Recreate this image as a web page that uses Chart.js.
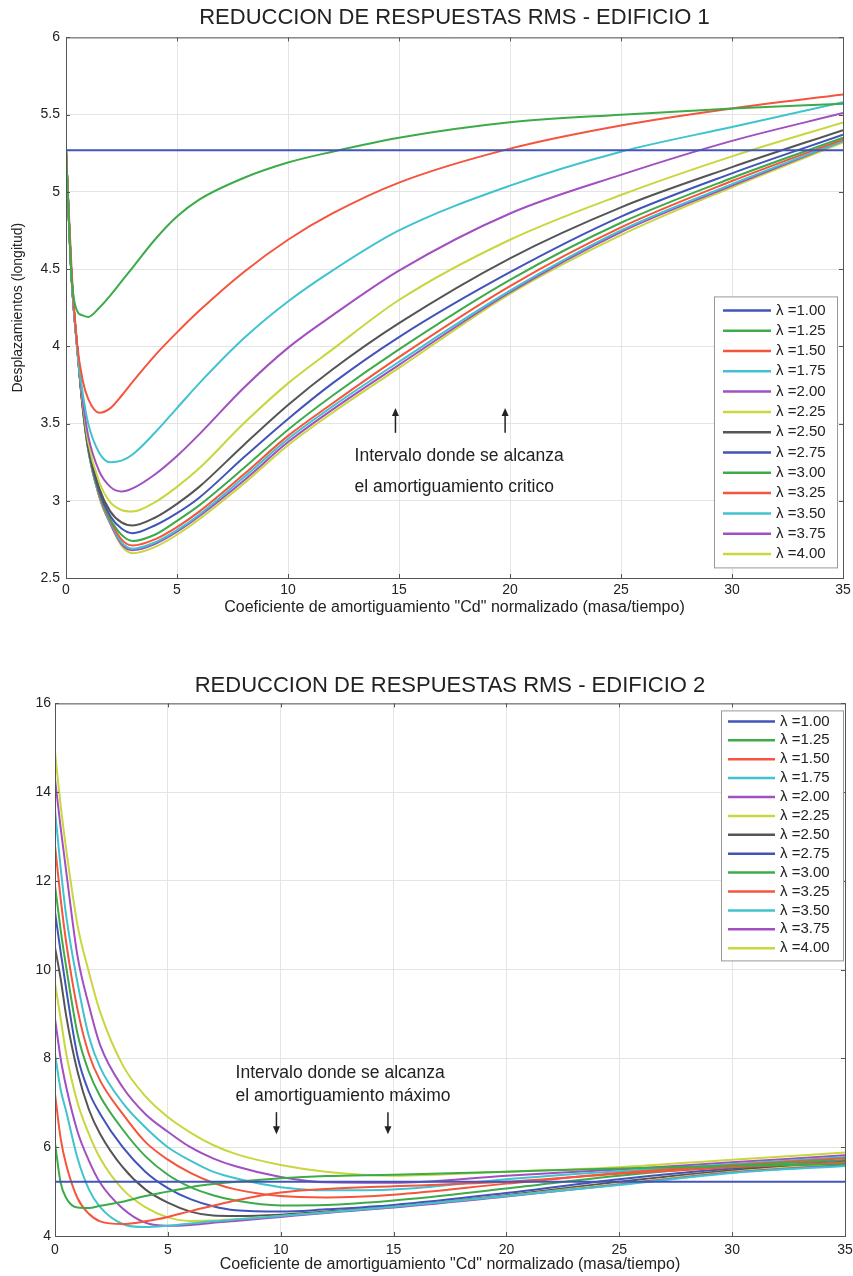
<!DOCTYPE html>
<html><head><meta charset="utf-8">
<script src="https://cdn.jsdelivr.net/npm/chart.js@4.4.0/dist/chart.umd.min.js"></script>
<style>
html,body{margin:0;padding:0;background:#fff;}
canvas{position:absolute;left:0;}
#c1{top:0;}
#c2{top:640px;}
</style></head><body>
<canvas id="c1" width="853" height="625"></canvas>
<canvas id="c2" width="853" height="636"></canvas>
<script>
// ---------- DATA ----------
const lambdas = ['1.00','1.25','1.50','1.75','2.00','2.25','2.50','2.75','3.00','3.25','3.50','3.75','4.00'];

const title1 = 'REDUCCION DE RESPUESTAS RMS - EDIFICIO 1';
const title2 = 'REDUCCION DE RESPUESTAS RMS - EDIFICIO 2';
const xTitle = 'Coeficiente de amortiguamiento "Cd" normalizado (masa/tiempo)';
const yTitle1 = 'Desplazamientos (longitud)';

// Edificio 1
const cd1 = [0,0.25,0.5,0.75,1,1.5,2,2.5,3,4,5,6,8,10,12,15,20,25,30,35];
const e1_100 = [5.27,5.27,5.27,5.27,5.27,5.27,5.27,5.27,5.27,5.27,5.27,5.27,5.27,5.27,5.27,5.27,5.27,5.27,5.27,5.27];
const e1_125 = [5.27,4.45,4.23,4.20,4.19,4.25,4.33,4.42,4.51,4.69,4.84,4.95,5.09,5.19,5.26,5.35,5.45,5.50,5.54,5.57];
const e1_150 = [5.27,4.50,4.02,3.78,3.66,3.57,3.60,3.68,3.77,3.94,4.09,4.23,4.48,4.69,4.86,5.06,5.28,5.43,5.54,5.63];
const e1_175 = [5.27,4.45,3.98,3.70,3.50,3.31,3.25,3.26,3.30,3.44,3.60,3.76,4.05,4.29,4.49,4.75,5.04,5.26,5.42,5.58];
const e1_200 = [5.27,4.45,4.00,3.66,3.42,3.19,3.09,3.06,3.08,3.17,3.29,3.43,3.73,3.99,4.20,4.49,4.86,5.11,5.33,5.51];
const e1_225 = [5.27,4.45,4.00,3.64,3.38,3.12,2.99,2.94,2.93,2.99,3.09,3.21,3.50,3.76,3.98,4.30,4.69,4.98,5.23,5.45];
const e1_250 = [5.27,4.45,4.00,3.62,3.36,3.08,2.93,2.86,2.84,2.89,2.98,3.09,3.36,3.62,3.85,4.15,4.57,4.90,5.16,5.40];
const e1_275 = [5.27,4.45,4.00,3.62,3.35,3.06,2.90,2.82,2.79,2.84,2.92,3.02,3.28,3.53,3.76,4.06,4.48,4.84,5.12,5.37];
const e1_300 = [5.27,4.45,4.00,3.61,3.34,3.05,2.88,2.78,2.74,2.78,2.87,2.97,3.21,3.46,3.68,3.98,4.43,4.80,5.09,5.35];
const e1_325 = [5.27,4.45,4.00,3.61,3.34,3.04,2.87,2.75,2.71,2.75,2.83,2.93,3.17,3.42,3.63,3.93,4.39,4.77,5.07,5.34];
const e1_350 = [5.27,4.45,4.00,3.61,3.33,3.03,2.86,2.73,2.69,2.73,2.81,2.91,3.15,3.40,3.61,3.90,4.36,4.75,5.05,5.33];
const e1_375 = [5.27,4.45,4.00,3.61,3.33,3.03,2.85,2.72,2.68,2.72,2.80,2.90,3.13,3.38,3.59,3.88,4.35,4.74,5.04,5.33];
const e1_400 = [5.27,4.45,4.00,3.60,3.33,3.02,2.85,2.71,2.66,2.70,2.78,2.88,3.11,3.36,3.57,3.86,4.34,4.72,5.03,5.32];

// Edificio 2
const cd2 = [0,0.25,0.5,1,1.5,2,3,4,5,6,7,8,10,12,15,20,25,30,35];
const e2_100 = [5.22,5.22,5.22,5.22,5.22,5.22,5.22,5.22,5.22,5.22,5.22,5.22,5.22,5.22,5.22,5.22,5.22,5.22,5.22];
const e2_125 = [6.10,5.20,4.85,4.64,4.63,4.68,4.77,4.90,5.00,5.10,5.17,5.22,5.30,5.35,5.38,5.45,5.52,5.58,5.62];
const e2_150 = [7.20,6.20,5.60,4.85,4.50,4.33,4.27,4.33,4.43,4.56,4.68,4.80,4.98,5.06,5.12,5.22,5.40,5.55,5.66];
const e2_175 = [8.10,7.30,6.80,5.75,5.05,4.65,4.27,4.20,4.23,4.28,4.33,4.37,4.45,4.53,4.66,4.90,5.15,5.42,5.58];
const e2_200 = [8.90,8.00,7.35,6.35,5.70,5.20,4.62,4.30,4.23,4.25,4.30,4.34,4.43,4.52,4.64,4.89,5.16,5.43,5.60];
const e2_225 = [9.70,8.90,8.10,7.00,6.30,5.75,5.05,4.65,4.42,4.34,4.35,4.38,4.45,4.53,4.65,4.90,5.18,5.45,5.63];
const e2_250 = [10.50,9.80,8.95,7.70,6.85,6.30,5.55,5.05,4.75,4.55,4.46,4.45,4.48,4.55,4.66,4.92,5.22,5.48,5.66];
const e2_275 = [11.30,10.40,9.55,8.05,7.25,6.75,6.00,5.45,5.08,4.83,4.67,4.58,4.55,4.60,4.70,4.97,5.28,5.52,5.68];
const e2_300 = [11.90,10.90,10.05,8.55,7.70,7.15,6.40,5.80,5.38,5.10,4.92,4.80,4.69,4.70,4.80,5.07,5.36,5.57,5.71];
const e2_325 = [12.80,11.60,10.60,9.10,8.10,7.50,6.75,6.12,5.72,5.42,5.20,5.05,4.90,4.87,4.93,5.18,5.42,5.60,5.75];
const e2_350 = [13.60,12.30,11.20,9.70,8.50,7.80,7.00,6.45,6.00,5.70,5.45,5.30,5.10,5.03,5.05,5.28,5.46,5.62,5.78];
const e2_375 = [14.30,13.20,12.20,10.30,9.20,8.30,7.35,6.75,6.35,6.00,5.75,5.57,5.33,5.21,5.20,5.36,5.50,5.66,5.82];
const e2_400 = [14.90,13.70,12.70,11.00,9.95,9.05,7.85,7.15,6.68,6.33,6.05,5.85,5.60,5.45,5.36,5.45,5.55,5.72,5.88];

// annotation texts / anchor values (data units)
const note1Lines = ['Intervalo donde se alcanza','el amortiguamiento critico'];
const note1X = 13.0, note1Y = [3.29, 3.09];
const arrows1X = [14.84, 19.78], arrows1From = 3.44, arrows1To = 3.60;
const note2Lines = ['Intervalo donde se alcanza','el amortiguamiento máximo'];
const note2X = 8.0, note2Y = [7.67, 7.16];
const arrows2X = [9.81, 14.75], arrows2From = 6.79, arrows2To = 6.29;

// ---------- STYLE ----------
const colors = ['#4254b8','#3dab4a','#f4553c','#40c3cf','#a24fc1','#c9d63d','#555555','#4254b8','#3dab4a','#f4553c','#40c3cf','#a24fc1','#c9d63d'];
const FONT = "'Liberation Sans', Arial, sans-serif";

function buildSets(xs, ys){
  return ys.map((arr,i)=>({
    label: 'λ =' + lambdas[i],
    data: arr.map((v,j)=>({x:xs[j], y:v})),
    borderColor: colors[i],
    backgroundColor: colors[i],
    borderWidth: 2,
    pointRadius: 0,
    fill: false,
    cubicInterpolationMode: 'monotone'
  }));
}

const framePlugin = {
  id:'frame',
  afterDatasetsDraw(chart){
    const {ctx, chartArea:a, scales} = chart;
    ctx.save();
    ctx.strokeStyle = '#555';
    ctx.lineWidth = 1;
    ctx.strokeRect(a.left+0.5, a.top+0.5, a.right-a.left, a.bottom-a.top);
    ctx.beginPath();
    scales.x.ticks.forEach(t=>{
      const px = Math.round(scales.x.getPixelForValue(t.value))+0.5;
      ctx.moveTo(px,a.bottom); ctx.lineTo(px,a.bottom-4);
      ctx.moveTo(px,a.top); ctx.lineTo(px,a.top+4);
    });
    scales.y.ticks.forEach(t=>{
      const py = Math.round(scales.y.getPixelForValue(t.value))+0.5;
      ctx.moveTo(a.left,py); ctx.lineTo(a.left+4,py);
      ctx.moveTo(a.right,py); ctx.lineTo(a.right-4,py);
    });
    ctx.stroke();
    ctx.restore();
  }
};

function legendPlugin(opt){
  return {
    id:'customLegend',
    afterDraw(chart){
      const {ctx, chartArea:a} = chart;
      const L = a.right + opt.left, R = a.right + opt.right;
      const T = a.top + opt.top, B = a.top + opt.bottom;
      ctx.save();
      ctx.fillStyle = '#fff';
      ctx.fillRect(L,T,R-L,B-T);
      ctx.strokeStyle = '#999';
      ctx.lineWidth = 1;
      ctx.strokeRect(L+0.5,T+0.5,R-L,B-T);
      ctx.font = '15px ' + FONT;
      ctx.textBaseline = 'middle';
      ctx.textAlign = 'left';
      chart.data.datasets.forEach((ds,i)=>{
        const y = T + opt.first + i*opt.step;
        ctx.strokeStyle = ds.borderColor;
        ctx.lineWidth = 2.5;
        ctx.beginPath();
        ctx.moveTo(L+opt.lineFrom, y); ctx.lineTo(L+opt.lineTo, y);
        ctx.stroke();
        ctx.fillStyle = '#222';
        ctx.fillText(ds.label, L+opt.textX, y);
      });
      ctx.restore();
    }
  };
}

function notesPlugin(lines, nx, nys, ax, from, to){
  return {
    id:'notes',
    afterDraw(chart){
      const {ctx, scales:{x,y}} = chart;
      ctx.save();
      ctx.fillStyle = '#222';
      ctx.font = '17.5px ' + FONT;
      ctx.textBaseline = 'middle';
      ctx.textAlign = 'left';
      lines.forEach((t,i)=>ctx.fillText(t, x.getPixelForValue(nx), y.getPixelForValue(nys[i])));
      ctx.strokeStyle = '#222';
      ctx.lineWidth = 1.5;
      ax.forEach(v=>{
        const px = x.getPixelForValue(v);
        const y0 = y.getPixelForValue(from), y1 = y.getPixelForValue(to);
        const dir = y1 < y0 ? 1 : -1;
        ctx.beginPath(); ctx.moveTo(px,y0); ctx.lineTo(px,y1 + dir*3); ctx.stroke();
        ctx.beginPath();
        ctx.moveTo(px,y1); ctx.lineTo(px-3.5,y1+dir*8); ctx.lineTo(px+3.5,y1+dir*8); ctx.closePath();
        ctx.fill();
      });
      ctx.restore();
    }
  };
}

function makeChart(id, xs, ys, o){
  return new Chart(document.getElementById(id), {
    type:'line',
    data:{datasets: buildSets(xs, ys)},
    options:{
      responsive:false,
      animation:false,
      layout:{padding:{left:0,right:o.padRight,top:0,bottom:0}},
      plugins:{
        legend:{display:false},
        tooltip:{enabled:false},
        title:{display:true, fullSize:false, text:o.title, color:'#222', font:{family:FONT, size:22, weight:'normal'}, padding:o.titlePad}
      },
      scales:{
        x:{
          type:'linear', min:0, max:35,
          ticks:{stepSize:5, color:'#222', font:{family:FONT,size:14}, padding:o.xTickPad, maxRotation:0},
          grid:{color:'#e4e4e4', drawTicks:false},
          border:{display:false},
          title:{display:true, text:xTitle, color:'#222', font:{family:FONT,size:16}, padding:{top:0,bottom:o.xTitlePadB}},
          afterFit(s){ s.height = o.xH; s.paddingLeft = 0; s.paddingRight = 0; }
        },
        y:{
          type:'linear', min:o.ymin, max:o.ymax,
          ticks:{stepSize:o.ystep, color:'#222', font:{family:FONT,size:14}, padding:o.yTickPad, callback:v=>String(v)},
          grid:{color:'#e4e4e4', drawTicks:false},
          border:{display:false},
          title:{display:!!o.yTitle, text:o.yTitle||'', color:'#222', font:{family:FONT,size:14}, padding:{top:10,bottom:2}},
          afterFit(s){ s.width = o.yW; s.paddingTop = 0; s.paddingBottom = 0; }
        }
      }
    },
    plugins:[framePlugin, legendPlugin(o.legend), notesPlugin(o.notes[0],o.notes[1],o.notes[2],o.notes[3],o.notes[4],o.notes[5])]
  });
}

makeChart('c1', cd1,
  [e1_100,e1_125,e1_150,e1_175,e1_200,e1_225,e1_250,e1_275,e1_300,e1_325,e1_350,e1_375,e1_400],
  {title:title1, titlePad:{top:5,bottom:6}, padRight:10, xTickPad:4, xTitlePadB:8, xH:47,
   ymin:2.5, ymax:6, ystep:0.5, yTickPad:6, yW:66, yTitle:yTitle1,
   legend:{left:-129, right:-6, top:259, bottom:530, first:14, step:20.3, lineFrom:9, lineTo:57, textX:62},
   notes:[note1Lines, note1X, note1Y, arrows1X, arrows1From, arrows1To]});

makeChart('c2', cd2,
  [e2_100,e2_125,e2_150,e2_175,e2_200,e2_225,e2_250,e2_275,e2_300,e2_325,e2_350,e2_375,e2_400],
  {title:title2, titlePad:{top:33,bottom:4}, padRight:8, xTickPad:6, xTitlePadB:2, xH:40,
   ymin:4, ymax:16, ystep:2, yTickPad:4, yW:55, yTitle:'',
   legend:{left:-124, right:-2, top:7, bottom:257, first:11, step:18.9, lineFrom:7, lineTo:54, textX:59},
   notes:[note2Lines, note2X, note2Y, arrows2X, arrows2From, arrows2To]});
</script>
</body></html>
